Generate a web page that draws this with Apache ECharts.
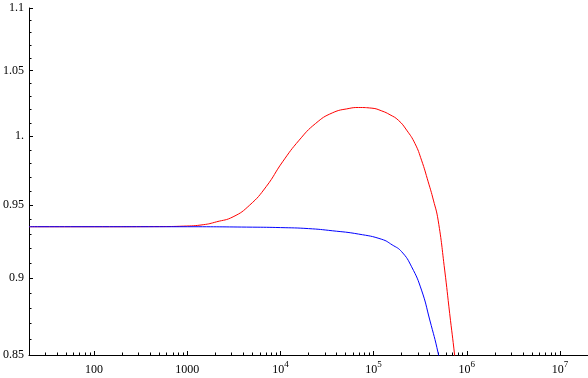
<!DOCTYPE html>
<html>
<head>
<meta charset="utf-8">
<script src="https://cdn.jsdelivr.net/npm/echarts@6/dist/echarts.min.js"></script>
<style>
  html, body { margin: 0; padding: 0; background: #fff; }
  #chart { width: 588px; height: 378px; }
</style>
</head>
<body>
<div id="chart"></div>
<script>
// red curve (x, y)
const redX = [20, 100, 500, 908, 1484, 2056, 3100, 4670, 7015, 10540, 15880, 23880, 35960, 54600, 69000, 95900, 122400, 150000, 184300, 226000, 277500, 326700, 385400, 438000, 492300, 579000, 654900, 740000, 780000]
const redY = [0.935, 0.935, 0.9351, 0.9354, 0.9364, 0.9384, 0.9419, 0.9501, 0.9632, 0.9812, 0.9971, 1.0096, 1.0175, 1.0209, 1.0216, 1.0211, 1.019, 1.0161, 1.012, 1.0046, 0.9947, 0.9824, 0.9667, 0.9537, 0.9396, 0.9054, 0.8767, 0.85, 0.836]
// blue curve (x, y)
const blueX = [20, 100, 1000, 5000, 10000, 20000, 36000, 69000, 122400, 158000, 200000, 255600, 326700, 400600, 492300, 540000]
const blueY = [0.935, 0.935, 0.935, 0.9347, 0.9344, 0.9337, 0.9322, 0.9299, 0.9263, 0.9225, 0.9178, 0.9076, 0.892, 0.8724, 0.8513, 0.838]

// ticks
const xMajor = [100, 1000, 1e4, 1e5, 1e6, 1e7]
const xMinor = [30, 40, 50, 60, 70, 80, 90,
  200, 300, 400, 500, 600, 700, 800, 900,
  2e3, 3e3, 4e3, 5e3, 6e3, 7e3, 8e3, 9e3,
  2e4, 3e4, 4e4, 5e4, 6e4, 7e4, 8e4, 9e4,
  2e5, 3e5, 4e5, 5e5, 6e5, 7e5, 8e5, 9e5,
  2e6, 3e6, 4e6, 5e6, 6e6, 7e6, 8e6, 9e6]
const yMajor = [0.85, 0.9, 0.95, 1, 1.05, 1.1]
const yLabels = ['0.85', '0.9', '0.95', '1.', '1.05', '1.1']
const yMinor = [0.86, 0.87, 0.88, 0.89, 0.91, 0.92, 0.93, 0.94, 0.96, 0.97, 0.98, 0.99,
  1.01, 1.02, 1.03, 1.04, 1.06, 1.07, 1.08, 1.09]

const font = 'Liberation Serif, Times New Roman, serif'
const ink = '#000'

function xLabel(v) {
  const e = Math.round(Math.log10(v))
  if (e < 4) return '{b|' + Math.round(v) + '}'
  return '{b|10}{s|' + e + '}'
}
function yLabel(v) {
  const i = yMajor.findIndex(m => Math.abs(m - v) < 1e-6)
  return i >= 0 ? yLabels[i] : ''
}

const chart = echarts.init(document.getElementById('chart'), null, { renderer: 'canvas' })
const xBase = { type: 'log', logBase: 10, min: 20, max: 2e7, splitLine: { show: false }, position: 'bottom' }
const yBase = { type: 'log', logBase: 10, min: 0.85, max: 1.1, splitLine: { show: false }, position: 'left' }

chart.setOption({
  animation: false,
  grid: { left: 25, right: 0, top: 8, bottom: 23, containLabel: false },
  xAxis: [
    {
      ...xBase,
      axisLine: { show: true, lineStyle: { color: ink, width: 1 } },
      axisTick: { show: true, inside: true, length: 4, lineStyle: { color: ink }, customValues: xMajor },
      axisLabel: {
        customValues: xMajor, margin: 5, formatter: xLabel,
        rich: {
          b: { fontFamily: font, fontSize: 12, color: ink, lineHeight: 16, verticalAlign: 'bottom' },
          s: { fontFamily: font, fontSize: 9, color: ink, lineHeight: 16, verticalAlign: 'top' },
        },
      },
    },
    {
      ...xBase,
      axisLine: { show: false },
      axisTick: { show: true, inside: true, length: 2.5, lineStyle: { color: ink }, customValues: xMinor },
      axisLabel: { show: false },
    },
  ],
  yAxis: [
    {
      ...yBase,
      axisLine: { show: true, lineStyle: { color: ink, width: 1 } },
      axisTick: { show: true, inside: true, length: 4, lineStyle: { color: ink }, customValues: yMajor },
      axisLabel: { customValues: yMajor, margin: 5, formatter: yLabel, fontFamily: font, fontSize: 12, color: ink },
    },
    {
      ...yBase,
      axisLine: { show: false },
      axisTick: { show: true, inside: true, length: 2.5, lineStyle: { color: ink }, customValues: yMinor },
      axisLabel: { show: false },
    },
  ],
  series: [
    {
      type: 'line', xAxisIndex: 0, yAxisIndex: 0, showSymbol: false, smooth: 0.5,
      lineStyle: { color: '#ff0000', width: 1 },
      data: redX.map((x, i) => [x, redY[i]]),
    },
    {
      type: 'line', xAxisIndex: 0, yAxisIndex: 0, showSymbol: false, smooth: 0.5,
      lineStyle: { color: '#0000ff', width: 1 },
      data: blueX.map((x, i) => [x, blueY[i]]),
    },
  ],
})
</script>
</body>
</html>
